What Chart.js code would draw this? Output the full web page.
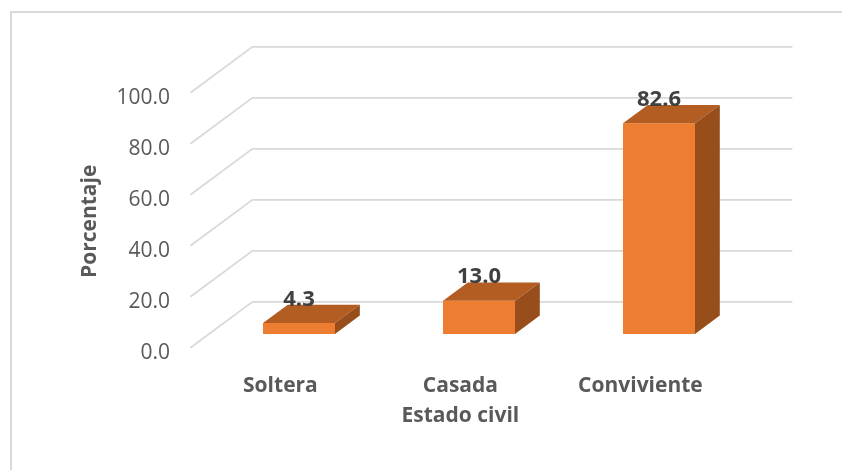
<!DOCTYPE html>
<html>
<head>
<meta charset="utf-8">
<script src="https://cdn.jsdelivr.net/npm/chart.js@4/dist/chart.umd.min.js"></script>
<style>
  html, body { margin: 0; padding: 0; background: #ffffff; }
  #wrap { position: relative; width: 842px; height: 470px; }
  #frame { position: absolute; left: 10px; top: 11px; width: 840px; height: 470px; border-left: 2px solid #d9d9d9; border-top: 2px solid #d9d9d9; box-sizing: border-box; }
  canvas { position: absolute; left: 0; top: 0; }
</style>
</head>
<body>
<div id="wrap">
  <div id="frame"></div>
  <canvas id="c" width="842" height="470"></canvas>
</div>
<script>
const categories = ["Soltera", "Casada", "Conviviente"];
const values = [4.3, 13.0, 82.6];
const yTicks = [0, 20, 40, 60, 80, 100];
const yTitle = "Porcentaje";
const xTitle = "Estado civil";

// 3D projection constants (pixels)
const BACK_DX = 43.4, BACK_DY = -32.2;   // bar front plane -> back wall
const FRONT_DX = -18.6, FRONT_DY = 13.8; // bar front plane -> front floor edge
const BAR_DX = 24.8, BAR_DY = -18.4;     // bar depth

const FRONT = '#ED7D31', TOP = '#B45D23', SIDE = '#974E1B';
const TEXT = '#595959';
const FONT = "'Open Sans', 'Noto Sans', sans-serif";

const plugin3d = {
  id: 'plugin3d',
  beforeDatasetsDraw(chart) {
    const ctx = chart.ctx, ca = chart.chartArea, ys = chart.scales.y;
    ctx.save();
    ctx.strokeStyle = '#d9d9d9';
    ctx.lineWidth = 1.8;
    yTicks.forEach(v => {
      const y = ys.getPixelForValue(v);
      const bx0 = ca.left + BACK_DX, bx1 = ca.right + BACK_DX, by = y + BACK_DY;
      const fx = ca.left + FRONT_DX, fy = y + FRONT_DY;
      ctx.beginPath();
      ctx.moveTo(fx, fy);
      ctx.lineTo(bx0, by);
      ctx.lineTo(bx1, by);
      ctx.stroke();
    });
    ctx.restore();
  },
  afterDatasetsDraw(chart) {
    const ctx = chart.ctx, ca = chart.chartArea;
    const meta = chart.getDatasetMeta(0);
    ctx.save();
    meta.data.forEach((bar, i) => {
      const p = bar.getProps(['x', 'y', 'base', 'width'], true);
      const x0 = p.x - p.width / 2, x1 = p.x + p.width / 2;
      const yt = p.y, yb = p.base;
      // top face
      ctx.fillStyle = TOP;
      ctx.beginPath();
      ctx.moveTo(x0, yt); ctx.lineTo(x1, yt);
      ctx.lineTo(x1 + BAR_DX, yt + BAR_DY); ctx.lineTo(x0 + BAR_DX, yt + BAR_DY);
      ctx.closePath(); ctx.fill();
      // side face
      ctx.fillStyle = SIDE;
      ctx.beginPath();
      ctx.moveTo(x1, yt); ctx.lineTo(x1 + BAR_DX, yt + BAR_DY);
      ctx.lineTo(x1 + BAR_DX, yb + BAR_DY); ctx.lineTo(x1, yb);
      ctx.closePath(); ctx.fill();
      // data label
      ctx.fillStyle = '#404040';
      ctx.font = "bold 22px " + FONT;
      ctx.textAlign = 'center';
      ctx.textBaseline = 'alphabetic';
      ctx.fillText(values[i].toFixed(1), p.x, yt + BAR_DY + 1);
    });
    // axis titles
    ctx.fillStyle = TEXT;
    ctx.font = "bold 21px " + FONT;
    ctx.textAlign = 'center';
    ctx.textBaseline = 'middle';
    ctx.fillText(xTitle, (ca.left + ca.right) / 2 + FRONT_DX, 416);
    ctx.translate(90, (ca.top + ca.bottom) / 2 + FRONT_DY + 1);
    ctx.rotate(-Math.PI / 2);
    ctx.fillText(yTitle, 0, 0);
    ctx.restore();
  }
};

new Chart(document.getElementById('c'), {
  type: 'bar',
  data: {
    labels: categories,
    datasets: [{
      data: values,
      backgroundColor: FRONT,
      borderWidth: 0,
      categoryPercentage: 1.0,
      barPercentage: 0.4
    }]
  },
  options: {
    responsive: false,
    animation: false,
    layout: { padding: { left: 0, right: 93, top: 79, bottom: 0 } },
    plugins: { legend: { display: false }, tooltip: { enabled: false } },
    scales: {
      x: {
        grid: { display: false, drawTicks: false },
        border: { display: false },
        ticks: {
          color: TEXT,
          font: { family: FONT, size: 21, weight: 'bold' },
          padding: 39,
          labelOffset: FRONT_DX,
          maxRotation: 0
        },
        afterFit(s) { s.height = 136; }
      },
      y: {
        min: 0, max: 100,
        grid: { display: false, drawTicks: false },
        border: { display: false },
        ticks: {
          stepSize: 20,
          color: TEXT,
          font: { family: FONT, size: 21 },
          padding: 39,
          labelOffset: FRONT_DY + 5,
          callback: v => Number(v).toFixed(1)
        },
        afterFit(s) { s.width = 209; }
      }
    }
  },
  plugins: [plugin3d]
});
</script>
</body>
</html>
